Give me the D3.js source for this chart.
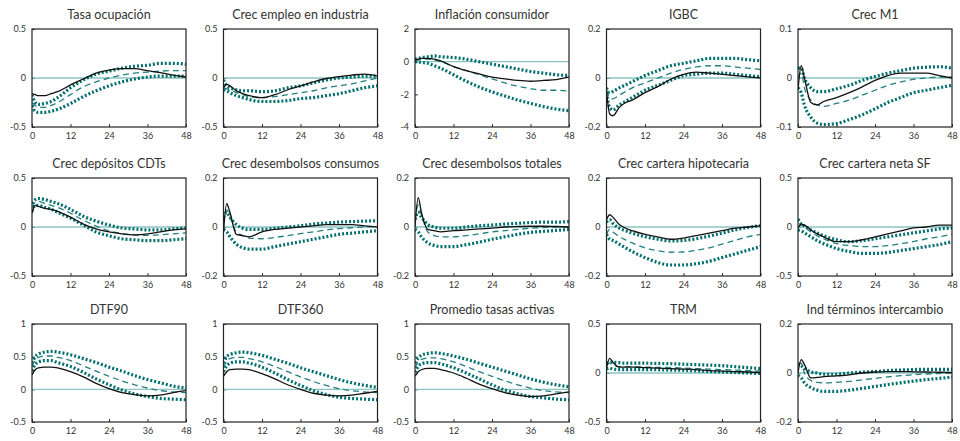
<!DOCTYPE html>
<html>
<head>
<meta charset="utf-8">
<script src="https://cdn.jsdelivr.net/npm/d3@7"></script>
<style>
  body { margin: 0; background: #fff; }
  svg { font-family: Lato, "Open Sans", sans-serif; }
</style>
</head>
<body>
<div id="chart"></div>
<script>
// horizons (months) where values were read
const months = [0, 1, 2, 4, 6, 8, 12, 16, 20, 24, 28, 32, 36, 40, 44, 48];
const xTicks = [0, 12, 24, 36, 48];

const titles = [
  'Tasa ocupación', 'Crec empleo en industria', 'Inflación consumidor', 'IGBC', 'Crec M1',
  'Crec depósitos CDTs', 'Crec desembolsos consumos', 'Crec desembolsos totales', 'Crec cartera hipotecaria', 'Crec cartera neta SF',
  'DTF90', 'DTF360', 'Promedio tasas activas', 'TRM', 'Ind términos intercambio'
];

const yDomains = [
  [-0.5, 0.5], [-0.5, 0.5], [-4, 2], [-0.2, 0.2], [-0.1, 0.1],
  [-0.5, 0.5], [-0.2, 0.2], [-0.2, 0.2], [-0.2, 0.2], [-0.5, 0.5],
  [-0.5, 1], [-0.5, 1], [-0.5, 1], [-0.5, 0.5], [-0.2, 0.2]
];

const yTicks = [
  [-0.5, 0, 0.5], [-0.5, 0, 0.5], [-4, -2, 0, 2], [-0.2, 0, 0.2], [-0.1, 0, 0.1],
  [-0.5, 0, 0.5], [-0.2, 0, 0.2], [-0.2, 0, 0.2], [-0.2, 0, 0.2], [-0.5, 0, 0.5],
  [-0.5, 0, 0.5, 1], [-0.5, 0, 0.5, 1], [-0.5, 0, 0.5, 1], [-0.5, 0, 0.5], [-0.2, 0, 0.2]
];

// solid black line
const response = [
  [-0.16,-0.17,-0.18,-0.18,-0.16,-0.14,-0.07,-0.01,0.05,0.08,0.095,0.095,0.075,0.055,0.03,0.01],
  [-0.10,-0.065,-0.08,-0.13,-0.16,-0.18,-0.20,-0.17,-0.12,-0.08,-0.04,-0.005,0.015,0.03,0.04,0.02],
  [0.1,0.15,0.2,0.2,0.15,0.05,-0.3,-0.55,-0.75,-0.95,-1.05,-1.15,-1.2,-1.15,-1.1,-0.95],
  [-0.05,-0.147,-0.154,-0.12,-0.1,-0.09,-0.06,-0.035,-0.005,0.015,0.024,0.02,0.015,0.01,0.005,0.0],
  [-0.025,0.025,0.0,-0.05,-0.055,-0.048,-0.04,-0.03,-0.018,-0.005,0.005,0.01,0.01,0.01,0.005,0.0],
  [0.14,0.22,0.21,0.19,0.18,0.16,0.1,0.03,-0.02,-0.05,-0.07,-0.08,-0.07,-0.05,-0.03,-0.02],
  [-0.02,0.095,0.06,-0.03,-0.035,-0.04,-0.02,-0.01,-0.005,0.0,0.005,0.01,0.01,0.01,0.005,0.0],
  [0.0,0.12,0.06,-0.01,-0.015,-0.02,-0.015,-0.012,-0.008,-0.005,0.0,0.002,0.003,0.003,0.002,0.0],
  [0.03,0.05,0.04,0.01,-0.005,-0.015,-0.03,-0.04,-0.05,-0.045,-0.035,-0.025,-0.015,-0.005,0.0,0.005],
  [-0.01,0.03,0.02,-0.03,-0.07,-0.1,-0.15,-0.15,-0.13,-0.1,-0.07,-0.04,-0.01,0.0,0.02,0.02],
  [0.22,0.3,0.33,0.34,0.34,0.33,0.27,0.19,0.09,0.01,-0.05,-0.08,-0.1,-0.09,-0.05,-0.02],
  [0.2,0.27,0.3,0.31,0.31,0.3,0.24,0.16,0.07,0.0,-0.06,-0.09,-0.1,-0.09,-0.06,-0.03],
  [0.2,0.27,0.3,0.32,0.32,0.3,0.25,0.17,0.08,0.01,-0.05,-0.09,-0.11,-0.1,-0.07,-0.04],
  [0.05,0.15,0.11,0.06,0.06,0.06,0.055,0.05,0.045,0.04,0.035,0.025,0.02,0.015,0.01,0.005],
  [0.0,0.055,0.035,-0.02,-0.018,-0.015,-0.012,-0.008,0.0,0.004,0.006,0.006,0.005,0.004,0.003,0.002]
];

// dashed median
const median = [
  [-0.25,-0.28,-0.30,-0.30,-0.28,-0.25,-0.17,-0.09,-0.04,0.0,0.03,0.05,0.06,0.07,0.075,0.075],
  [-0.10,-0.11,-0.12,-0.15,-0.17,-0.19,-0.20,-0.19,-0.17,-0.15,-0.13,-0.10,-0.08,-0.06,-0.03,0.0],
  [0.05,0.1,0.15,0.15,0.1,0.0,-0.3,-0.55,-0.8,-1.05,-1.3,-1.5,-1.65,-1.75,-1.75,-1.8],
  [-0.05,-0.08,-0.085,-0.07,-0.055,-0.04,-0.02,0.0,0.02,0.035,0.045,0.05,0.05,0.045,0.04,0.035],
  [0.0,0.01,-0.02,-0.045,-0.055,-0.058,-0.052,-0.045,-0.035,-0.025,-0.015,-0.008,-0.003,0.0,0.002,0.002],
  [0.2,0.25,0.26,0.24,0.22,0.2,0.14,0.07,0.01,-0.04,-0.065,-0.08,-0.085,-0.08,-0.07,-0.06],
  [0.02,0.07,0.04,-0.02,-0.035,-0.045,-0.048,-0.043,-0.035,-0.027,-0.02,-0.012,-0.007,-0.003,0.0,0.002],
  [0.03,0.09,0.05,-0.02,-0.035,-0.04,-0.04,-0.035,-0.028,-0.02,-0.015,-0.01,-0.005,-0.002,0.0,0.002],
  [-0.03,-0.01,-0.02,-0.04,-0.053,-0.065,-0.085,-0.097,-0.103,-0.102,-0.095,-0.085,-0.07,-0.055,-0.04,-0.03],
  [0.0,0.02,0.0,-0.05,-0.09,-0.12,-0.17,-0.19,-0.2,-0.2,-0.19,-0.17,-0.15,-0.12,-0.1,-0.07],
  [0.35,0.45,0.49,0.51,0.51,0.49,0.44,0.36,0.28,0.2,0.13,0.07,0.02,-0.02,-0.04,-0.05],
  [0.33,0.43,0.47,0.49,0.49,0.47,0.42,0.35,0.27,0.19,0.12,0.06,0.01,-0.02,-0.04,-0.05],
  [0.33,0.42,0.46,0.48,0.48,0.47,0.42,0.35,0.27,0.2,0.13,0.07,0.02,-0.02,-0.04,-0.05],
  [0.08,0.1,0.08,0.065,0.065,0.065,0.06,0.058,0.055,0.05,0.045,0.04,0.035,0.03,0.025,0.02],
  [0.03,0.04,0.0,-0.03,-0.038,-0.04,-0.038,-0.034,-0.028,-0.022,-0.016,-0.011,-0.007,-0.004,-0.002,0.0]
];

// dotted upper band
const upper = [
  [-0.17,-0.25,-0.27,-0.26,-0.24,-0.2,-0.1,-0.02,0.04,0.07,0.1,0.12,0.13,0.15,0.15,0.14],
  [-0.02,-0.08,-0.10,-0.12,-0.13,-0.13,-0.14,-0.13,-0.10,-0.08,-0.05,-0.02,0.0,0.01,0.02,0.02],
  [0.15,0.2,0.25,0.3,0.35,0.3,0.25,0.15,0.0,-0.15,-0.3,-0.45,-0.6,-0.7,-0.8,-0.85],
  [-0.04,-0.06,-0.055,-0.04,-0.028,-0.015,0.01,0.03,0.05,0.06,0.07,0.08,0.08,0.08,0.075,0.07],
  [0.02,0.02,0.0,-0.02,-0.028,-0.028,-0.022,-0.015,-0.005,0.003,0.01,0.015,0.02,0.022,0.023,0.02],
  [0.24,0.28,0.29,0.28,0.26,0.24,0.18,0.11,0.06,0.02,-0.01,-0.02,-0.03,-0.03,-0.02,-0.01],
  [0.04,0.06,0.04,0.01,-0.005,-0.01,-0.01,-0.005,0.0,0.005,0.012,0.016,0.02,0.022,0.024,0.025],
  [0.03,0.06,0.04,0.01,0.0,-0.005,-0.005,0.0,0.005,0.008,0.012,0.015,0.018,0.02,0.02,0.022],
  [0.02,0.03,0.015,-0.005,-0.015,-0.025,-0.04,-0.05,-0.057,-0.055,-0.048,-0.037,-0.025,-0.012,-0.002,0.005],
  [0.08,0.03,0.01,-0.03,-0.06,-0.09,-0.13,-0.15,-0.14,-0.12,-0.1,-0.08,-0.06,-0.04,-0.02,-0.01],
  [0.4,0.5,0.54,0.57,0.58,0.57,0.53,0.47,0.41,0.34,0.28,0.21,0.15,0.1,0.05,0.02],
  [0.4,0.5,0.53,0.56,0.57,0.56,0.52,0.46,0.4,0.33,0.27,0.21,0.15,0.1,0.06,0.03],
  [0.4,0.48,0.52,0.55,0.56,0.55,0.51,0.46,0.4,0.34,0.28,0.22,0.16,0.11,0.07,0.04],
  [0.1,0.11,0.11,0.105,0.1,0.1,0.1,0.098,0.095,0.09,0.085,0.08,0.075,0.065,0.055,0.045],
  [0.04,0.03,0.02,0.005,0.0,-0.005,-0.005,0.0,0.003,0.006,0.01,0.012,0.014,0.015,0.015,0.015]
];

// dotted lower band
const lower = [
  [-0.28,-0.34,-0.35,-0.35,-0.34,-0.32,-0.26,-0.19,-0.13,-0.08,-0.04,-0.01,0.01,0.02,0.02,0.02],
  [-0.12,-0.13,-0.15,-0.18,-0.20,-0.22,-0.24,-0.24,-0.23,-0.21,-0.20,-0.18,-0.16,-0.13,-0.10,-0.08],
  [0.0,-0.02,-0.05,-0.1,-0.25,-0.4,-0.8,-1.2,-1.55,-1.85,-2.1,-2.35,-2.55,-2.75,-2.9,-3.0],
  [-0.06,-0.12,-0.13,-0.11,-0.095,-0.08,-0.05,-0.03,-0.01,0.01,0.015,0.02,0.02,0.015,0.01,0.005],
  [-0.02,-0.03,-0.055,-0.08,-0.092,-0.095,-0.093,-0.085,-0.075,-0.063,-0.05,-0.04,-0.03,-0.025,-0.02,-0.015],
  [0.16,0.22,0.22,0.2,0.18,0.15,0.09,0.02,-0.05,-0.09,-0.12,-0.13,-0.14,-0.14,-0.13,-0.12],
  [-0.01,-0.02,-0.04,-0.07,-0.085,-0.09,-0.09,-0.08,-0.07,-0.06,-0.05,-0.04,-0.03,-0.025,-0.02,-0.015],
  [-0.01,-0.02,-0.04,-0.065,-0.075,-0.08,-0.08,-0.072,-0.062,-0.05,-0.04,-0.03,-0.022,-0.018,-0.014,-0.01],
  [-0.03,-0.05,-0.055,-0.07,-0.085,-0.1,-0.125,-0.145,-0.155,-0.155,-0.15,-0.14,-0.125,-0.11,-0.095,-0.08],
  [-0.03,-0.04,-0.06,-0.1,-0.14,-0.17,-0.22,-0.25,-0.27,-0.27,-0.26,-0.24,-0.22,-0.2,-0.18,-0.15],
  [0.28,0.38,0.42,0.44,0.44,0.41,0.35,0.26,0.16,0.07,-0.01,-0.07,-0.11,-0.14,-0.15,-0.16],
  [0.27,0.36,0.4,0.42,0.42,0.4,0.34,0.25,0.15,0.06,-0.02,-0.08,-0.12,-0.14,-0.15,-0.16],
  [0.26,0.35,0.39,0.41,0.41,0.39,0.33,0.25,0.16,0.07,-0.01,-0.07,-0.11,-0.13,-0.15,-0.16],
  [0.04,0.05,0.04,0.035,0.035,0.035,0.035,0.033,0.03,0.028,0.022,0.015,0.01,0.005,0.0,-0.005],
  [-0.01,-0.02,-0.04,-0.06,-0.07,-0.075,-0.075,-0.07,-0.063,-0.055,-0.047,-0.04,-0.033,-0.027,-0.022,-0.017]
];

const width = 960;
const height = 441;
const cols = 5;
const panelLeft = 32, colStep = 191.5, plotW = 154;
const rowTops = [29, 178, 324], plotH = 98;

const teal = '#006f6d';
const svg = d3.select('#chart').append('svg')
  .attr('width', width)
  .attr('height', height);

const xScale = d3.scaleLinear().domain([0, 48]);

titles.forEach((title, i) => {
  const col = i % cols;
  const row = Math.floor(i / cols);
  const x0 = panelLeft + col * colStep;
  const y0 = rowTops[row];

  const x = xScale.copy().range([0, plotW]);
  const y = d3.scaleLinear().domain(yDomains[i]).range([plotH, 0]);

  const g = svg.append('g').attr('transform', `translate(${x0},${y0})`);

  g.append('text')
    .attr('x', plotW / 2)
    .attr('y', -10)
    .attr('text-anchor', 'middle')
    .attr('font-size', 12.5)
    .attr('fill', '#333')
    .text(title);

  g.append('clipPath').attr('id', `clip${i}`)
    .append('rect').attr('width', plotW).attr('height', plotH);

  const xAxis = g.append('g')
    .attr('transform', `translate(0,${plotH})`)
    .call(d3.axisBottom(x).tickValues(xTicks).tickSize(-3).tickPadding(6));
  const yAxis = g.append('g')
    .call(d3.axisLeft(y).tickValues(yTicks[i]).tickSize(-3).tickPadding(6)
      .tickFormat((d) => String(d)));

  [xAxis, yAxis].forEach((a) => {
    a.select('.domain').remove();
    a.selectAll('text').attr('font-size', 9).attr('fill', '#333')
      .attr('font-family', 'Lato, "Open Sans", sans-serif');
    a.selectAll('line').attr('stroke', '#333');
  });

  const plot = g.append('g').attr('clip-path', `url(#clip${i})`);

  plot.append('line')
    .attr('x1', 0).attr('x2', plotW)
    .attr('y1', y(0)).attr('y2', y(0))
    .attr('stroke', '#8cc3c3')
    .attr('stroke-width', 1.4);

  const line = d3.line()
    .x((d, j) => x(months[j]))
    .y((d) => y(d))
    .curve(d3.curveMonotoneX);

  [upper[i], lower[i]].forEach((band) => {
    plot.append('path')
      .attr('d', line(band))
      .attr('fill', 'none')
      .attr('stroke', teal)
      .attr('stroke-width', 3.2)
      .attr('stroke-dasharray', '2,2');
  });

  plot.append('path')
    .attr('d', line(median[i]))
    .attr('fill', 'none')
    .attr('stroke', '#237f7f')
    .attr('stroke-width', 1.3)
    .attr('stroke-dasharray', '6,4');

  plot.append('path')
    .attr('d', line(response[i]))
    .attr('fill', 'none')
    .attr('stroke', '#111')
    .attr('stroke-width', 1.3);

  g.append('rect')
    .attr('width', plotW)
    .attr('height', plotH)
    .attr('fill', 'none')
    .attr('stroke', '#222')
    .attr('stroke-width', 1.2);
});
</script>
</body>
</html>
